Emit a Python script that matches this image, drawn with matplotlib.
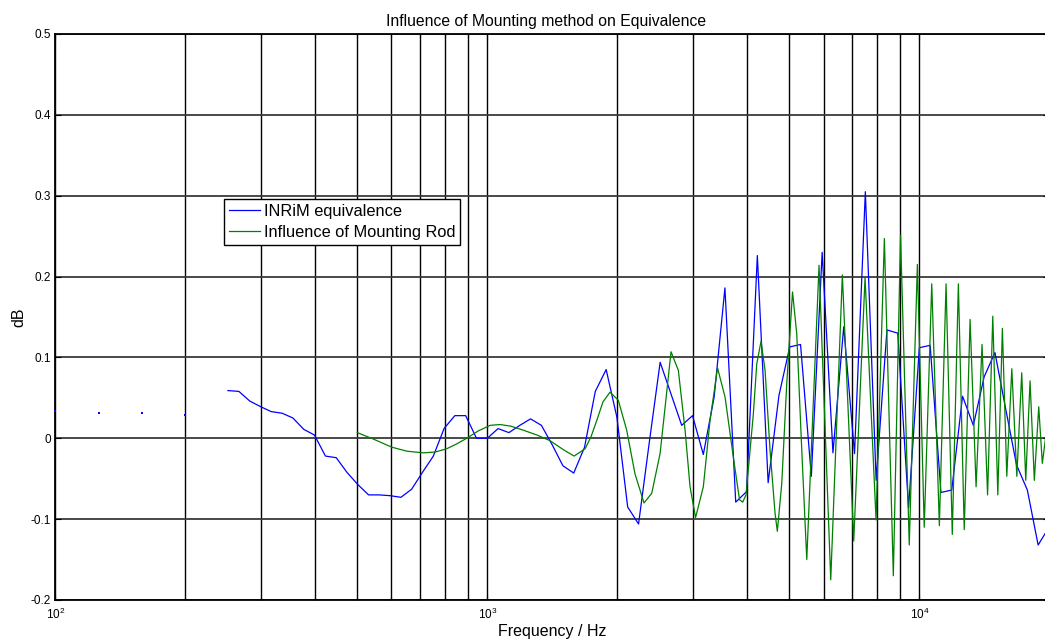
import matplotlib
matplotlib.use('Agg')
import matplotlib.pyplot as plt
from matplotlib.ticker import FixedLocator, FixedFormatter, NullFormatter

plt.rcParams['font.family'] = ['Liberation Sans', 'DejaVu Sans']
plt.rcParams['mathtext.fontset'] = 'custom'
plt.rcParams['mathtext.rm'] = 'Liberation Sans'
plt.rcParams['mathtext.it'] = 'Liberation Sans:italic'

title = "Influence of Mounting method on Equivalence"
x_label = "Frequency / Hz"
y_label = "dB"
series_names = ["INRiM equivalence", "Influence of Mounting Rod"]

# isolated low-frequency points of the INRiM series
inrim_low_freq = [100, 125.9, 158.5, 199.5]
inrim_low_db = [0.034, 0.031, 0.031, 0.029]

# INRiM equivalence (1/12-octave points)
inrim_freq = [251, 266, 282, 299, 316, 335, 355, 376, 398, 422,
              447, 473, 501, 531, 562, 596, 631, 668, 708, 750,
              794, 841, 891, 944, 1000, 1059, 1122, 1189, 1259, 1334,
              1413, 1496, 1585, 1679, 1778, 1884, 1995, 2113, 2239, 2371,
              2512, 2661, 2818, 2985, 3162, 3350, 3548, 3758, 3981, 4217,
              4467, 4732, 5012, 5309, 5623, 5957, 6310, 6683, 7079, 7499,
              7943, 8414, 8913, 9441, 10000, 10593, 11220, 11885, 12589, 13335,
              14125, 14962, 15849, 16788, 17783, 18836, 19953]
inrim_db = [0.059, 0.058, 0.046, 0.039, 0.033, 0.031, 0.025, 0.011, 0.004, -0.022,
            -0.024, -0.042, -0.057, -0.070, -0.070, -0.071, -0.073, -0.063, -0.042, -0.022,
            0.012, 0.028, 0.028, 0.000, 0.000, 0.012, 0.007, 0.016, 0.024, 0.016,
            -0.008, -0.034, -0.043, -0.011, 0.058, 0.085, 0.026, -0.085, -0.106, -0.005,
            0.094, 0.055, 0.016, 0.028, -0.020, 0.051, 0.186, -0.079, -0.066, 0.226,
            -0.055, 0.053, 0.113, 0.116, -0.047, 0.230, -0.018, 0.138, -0.019, 0.305,
            -0.052, 0.134, 0.130, -0.086, 0.112, 0.115, -0.067, -0.064, 0.052, 0.016,
            0.076, 0.106, 0.036, -0.033, -0.064, -0.132, -0.110]

# Influence of mounting rod
rod_freq = [500, 545, 601, 652, 711, 757, 805, 849, 896, 952,
            1015, 1070, 1134, 1212, 1303, 1397, 1499, 1588, 1684, 1738,
            1792, 1852, 1923, 2010, 2102, 2197, 2305, 2402, 2511, 2593,
            2662, 2768, 2869, 2946, 3034, 3162, 3277, 3411, 3550, 3710,
            3835, 3900, 3970, 4128, 4204, 4301, 4394, 4513, 4635, 4691,
            4803, 4933, 5087, 5203, 5344, 5488, 5859, 6236,
            6634, 7049, 7487, 7939, 8299, 8705, 9046, 9476, 9895, 10264,
            10683, 11125, 11530, 11919, 12312, 12703, 13105, 13531, 13967, 14386,
            14791, 15192, 15567, 15937, 16369, 16812, 17258, 17631, 18041, 18457,
            18895, 19259, 19700]
rod_db = [0.007, -0.001, -0.011, -0.016, -0.018, -0.017, -0.013, -0.007, 0.000, 0.009,
          0.016, 0.017, 0.015, 0.010, 0.004, -0.003, -0.014, -0.022, -0.013, 0.002,
          0.022, 0.045, 0.057, 0.047, 0.010, -0.044, -0.080, -0.068, -0.019, 0.050,
          0.107, 0.084, 0.010, -0.060, -0.098, -0.060, 0.022, 0.087, 0.051, -0.023,
          -0.076, -0.079, -0.070, 0.030, 0.092, 0.120, 0.084, -0.015, -0.093, -0.115,
          -0.056, 0.068, 0.181, 0.129, -0.015, -0.150, 0.214, -0.175,
          0.202, -0.127, 0.199, -0.101, 0.247, -0.170, 0.251, -0.132, 0.215, -0.110,
          0.191, -0.108, 0.191, -0.119, 0.191, -0.113, 0.147, -0.060, 0.116, -0.070,
          0.151, -0.070, 0.136, -0.047, 0.086, -0.047, 0.081, -0.052, 0.071, -0.052,
          0.039, -0.031, 0.010]

y_ticks = [-0.2, -0.1, 0.0, 0.1, 0.2, 0.3, 0.4, 0.5]
y_tick_labels = ['-0.2', '-0.1', '0', '0.1', '0.2', '0.3', '0.4', '0.5']
x_major = [100, 1000, 10000]
x_major_labels = ['$10^{2}$', '$10^{3}$', '$10^{4}$']
x_minor = [200, 300, 400, 500, 600, 700, 800, 900,
           2000, 3000, 4000, 5000, 6000, 7000, 8000, 9000, 20000]

W, H = 1045, 642
fig = plt.figure(figsize=(W / 100, H / 100), dpi=100)
ax = fig.add_axes([55.3 / W, 42 / H, 994.1 / W, 566 / H])
ax.set_xscale('log')

ax.plot(inrim_freq, inrim_db, color='#0000ff', lw=0.9, label=series_names[0], zorder=3)
ax.plot(inrim_low_freq, inrim_low_db, ls='none', marker='s', ms=1.6, mew=0,
        color='#0000ff', zorder=5, clip_on=False)
ax.plot(rod_freq, rod_db, color='#008000', lw=0.9, label=series_names[1], zorder=3)

ax.set_xlim(100, 20000)
ax.set_ylim(-0.2, 0.5)

ax.xaxis.set_major_locator(FixedLocator(x_major))
ax.xaxis.set_major_formatter(FixedFormatter(x_major_labels))
ax.xaxis.set_minor_locator(FixedLocator(x_minor))
ax.xaxis.set_minor_formatter(NullFormatter())
ax.yaxis.set_major_locator(FixedLocator(y_ticks))
ax.yaxis.set_major_formatter(FixedFormatter(y_tick_labels))

ax.set_axisbelow(True)
ax.grid(True, which='both', axis='x', color='black', lw=1.0)
ax.grid(True, which='major', axis='y', color='#3a3a3a', lw=1.3)

ax.tick_params(which='both', direction='in', top=True, right=True,
               labelsize=8.5, colors='black', pad=3)
ax.tick_params(which='major', length=4, width=0.8)
ax.tick_params(which='minor', length=2.5, width=0.8)
ax.tick_params(axis='x', pad=5)

for s in ax.spines.values():
    s.set_linewidth(1.3)
    s.set_color('black')

ax.set_title(title, fontsize=11.3, pad=6, x=0.494)
ax.set_xlabel(x_label, fontsize=11.5)
ax.xaxis.set_label_coords(0.5, -0.043)
ax.set_ylabel(y_label, fontsize=11.5)
ax.yaxis.set_label_coords(-0.029, 0.5)

leg = ax.legend(loc='upper left', bbox_to_anchor=(0.170, 0.7085),
                bbox_transform=ax.transAxes, borderaxespad=0,
                fontsize=11.8, frameon=True, fancybox=False,
                handlelength=1.9, handletextpad=0.2, borderpad=0.3,
                labelspacing=0.36)
leg.get_frame().set_edgecolor('black')
leg.get_frame().set_linewidth(1.0)
leg.get_frame().set_alpha(1)

fig.savefig('out.png', dpi=100)
